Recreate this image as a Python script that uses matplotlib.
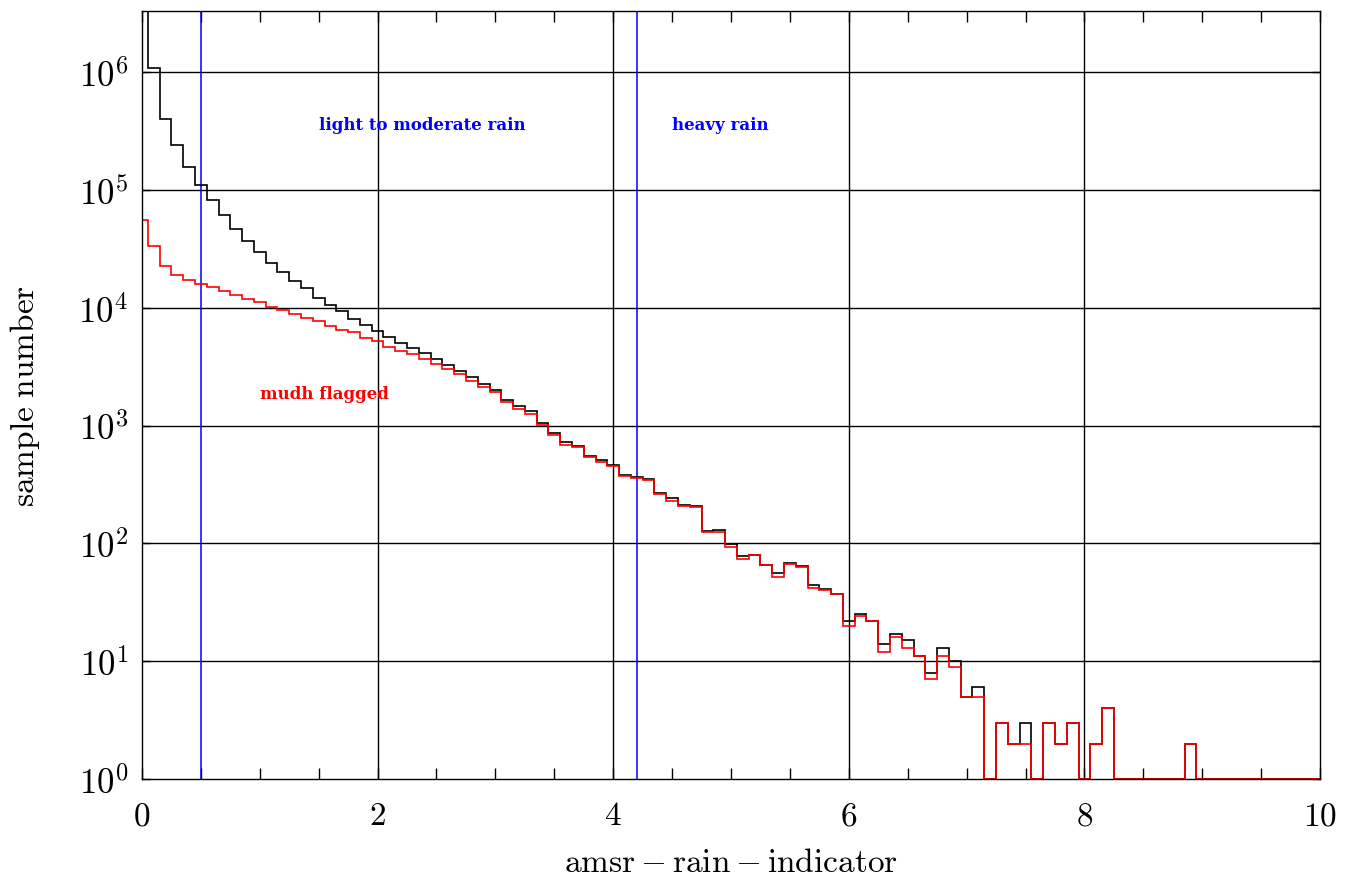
import numpy as np
import matplotlib

matplotlib.use("Agg")
import matplotlib.pyplot as plt
from matplotlib.ticker import FixedLocator, MultipleLocator, NullLocator

plt.rcParams["mathtext.fontset"] = "cm"

# histogram of amsr rain indicator, bins of width 0.1 centred on 0.0 ... 10.0
bin_width = 0.1
all_counts = [
    8.0e6, 1.08e6, 4.03e5, 2.41e5, 1.58e5, 1.11e5, 8.17e4, 6.13e4, 4.70e4, 3.67e4,
    2.96e4, 2.40e4, 2.00e4, 1.70e4, 1.46e4, 1.22e4, 1.06e4, 9.3e3, 8.1e3, 7.1e3,
    6.4e3, 5.6e3, 5.0e3, 4.56e3, 4.11e3, 3.68e3, 3.29e3, 2.92e3, 2.57e3, 2.24e3,
    2.0e3, 1.64e3, 1.47e3, 1.32e3, 1.06e3, 860, 721, 667, 556, 507,
    466, 381, 364, 352, 266, 243, 212, 206, 127, 131,
    98, 78, 79, 66, 56, 68, 64, 44, 41, 37,
    22, 25, 22, 14, 17, 15, 11, 8, 13, 10,
    5, 6, 0, 3, 2, 3, 0, 3, 2, 3,
    0, 2, 4, 0, 0, 0, 0, 0, 0, 2,
    0, 0, 0, 0, 0, 0, 0, 0, 0, 0,
    0,
]
mudh_counts = [
    5.6e4, 3.35e4, 2.26e4, 1.90e4, 1.72e4, 1.59e4, 1.49e4, 1.39e4, 1.29e4, 1.19e4,
    1.11e4, 1.01e4, 9.5e3, 8.8e3, 8.2e3, 7.7e3, 7.05e3, 6.5e3, 6.2e3, 5.57e3,
    5.19e3, 4.68e3, 4.32e3, 4.03e3, 3.67e3, 3.33e3, 3.04e3, 2.72e3, 2.40e3, 2.11e3,
    1.92e3, 1.59e3, 1.39e3, 1.25e3, 1.02e3, 827, 688, 652, 545, 494,
    451, 371, 357, 347, 263, 231, 209, 202, 124, 124,
    93, 74, 79, 65, 52, 67, 63, 42, 40, 37,
    20, 24, 22, 12, 16, 13, 11, 7, 11, 9,
    5, 5, 0, 3, 2, 2, 0, 3, 2, 3,
    0, 2, 4, 0, 0, 0, 0, 0, 0, 2,
    0, 0, 0, 0, 0, 0, 0, 0, 0, 0,
    0,
]
rain_thresholds = [0.5, 4.2]
region_labels = ["light to moderate rain", "heavy rain"]
region_x = [1.5, 4.5]
x_ticks = [0, 2, 4, 6, 8, 10]
y_decades = [0, 1, 2, 3, 4, 5, 6]

ymin, ymax = 1.0, 3.3e6

centres = np.arange(len(all_counts)) * bin_width
edges = np.append(centres - bin_width / 2, centres[-1] + bin_width / 2)

fig = plt.figure(figsize=(13.6, 8.78), dpi=100)
ax = fig.add_axes([0.1044, 0.1116, 0.8662, 0.8747])

ax.set_yscale("log")
ax.set_xlim(0, 10)
ax.set_ylim(ymin, ymax)

# grid only on the labelled x values and the decades
for xv in x_ticks[1:-1]:
    ax.axvline(xv, color="black", lw=1.0, zorder=1)
for d in y_decades[1:]:
    ax.axhline(10.0 ** d, color="black", lw=1.0, zorder=1)

for xv in rain_thresholds:
    ax.axvline(xv, color="#0000ff", lw=1.1, zorder=2)

ax.stairs(np.clip(all_counts, ymin, None), edges, baseline=None,
          color="black", lw=1.2, zorder=3)
ax.stairs(np.clip(mudh_counts, ymin, None), edges, baseline=None,
          color="#ff0000", lw=1.2, zorder=4)

for label, xv in zip(region_labels, region_x):
    ax.text(xv, 3.3e5, label, color="#0000ff", fontsize=12, fontweight="bold",
            family="DejaVu Serif", va="baseline", ha="left")
ax.text(1.0, 1.7e3, "mudh flagged", color="#ff0000", fontsize=12, fontweight="bold",
        family="DejaVu Serif", va="baseline", ha="left")

ax.xaxis.set_major_locator(FixedLocator(x_ticks))
ax.xaxis.set_minor_locator(MultipleLocator(0.5))
ax.set_xticklabels([f"${v}$" for v in x_ticks])
ax.yaxis.set_major_locator(FixedLocator([10.0 ** d for d in y_decades]))
ax.yaxis.set_minor_locator(NullLocator())
ax.set_yticklabels([f"$10^{{{d}}}$" for d in y_decades])

ax.tick_params(axis="x", which="both", direction="in", top=True, length=8,
               width=1.0, labelsize=24, pad=14)
ax.tick_params(axis="y", which="both", direction="in", right=True, length=6,
               width=1.0, labelsize=25, pad=10)

for sp in ax.spines.values():
    sp.set_linewidth(1.0)
    sp.set_zorder(5)

ax.set_xlabel(r"$\mathrm{amsr-rain-indicator}$", fontsize=24)
ax.set_ylabel(r"$\mathrm{sample\ number}$", fontsize=24)
ax.xaxis.set_label_coords(0.5, -0.086)
ax.yaxis.set_label_coords(-0.085, 0.5)

fig.savefig("out.png", dpi=100)
